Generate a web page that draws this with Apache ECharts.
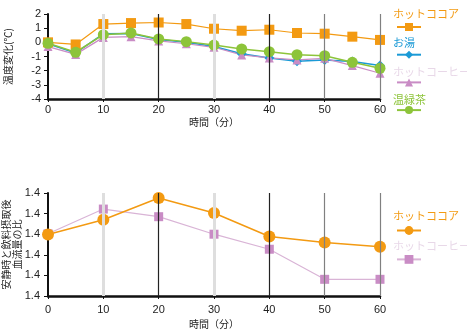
<!DOCTYPE html>
<html><head><meta charset="utf-8">
<script src="https://cdn.jsdelivr.net/npm/echarts@6/dist/echarts.min.js"></script>
<style>html,body{margin:0;padding:0;background:#fff}#c{width:467px;height:330px}</style>
</head><body><div id="c"></div>
<script>
// ---- data ----
const times = [0,5,10,15,20,25,30,35,40,45,50,55,60];
const cocoa = [0.0,-0.15,1.29,1.36,1.40,1.29,0.96,0.82,0.89,0.66,0.61,0.40,0.17];
const hotWater = [-0.1,-0.75,0.6,0.62,0.2,0.0,-0.3,-0.8,-1.1,-1.34,-1.24,-1.36,-1.64];
const coffee = [-0.3,-0.85,0.35,0.4,0.1,-0.1,-0.35,-0.89,-1.1,-1.24,-1.13,-1.64,-2.18];
const greenTea = [-0.07,-0.7,0.54,0.66,0.24,0.05,-0.19,-0.47,-0.66,-0.87,-0.94,-1.41,-1.83];

const times2 = [0,10,20,30,40,50,60];
const cocoa2 = [1.4299,1.4370,1.4476,1.4403,1.4289,1.4260,1.4239];
const coffee2 = [1.4302,1.4422,1.4385,1.4300,1.4227,1.4081,1.4081];

const names = ['ホットココア','お湯','ホットコーヒー','温緑茶'];
const xTitle = '時間（分）';
const yTitle1 = '温度変化(℃)';
const yTitle2 = '安静時と飲料摂取後\n血流量の比';
const vlineX = [10,20,30,40,50,60];

// ---- styles ----
const C = {cocoa:'#F39A12', water:'#1B9AD6', coffee:'#C98CC5', coffeeLine:'#D9B4D6', coffeeText:'#E8D8E8', tea:'#8DC43A'};
const FJ = '"Noto Sans CJK JP", sans-serif';
const FN = '"Liberation Sans", Arial, sans-serif';
const vStyles = [
  {color:'#dedede', width:3},{color:'#222', width:1.2},{color:'#dedede', width:3},
  {color:'#222', width:1.2},{color:'#808080', width:1.2},{color:'#808080', width:1.2}
];
const pairs = (xs, ys) => xs.map((x,i)=>[x, ys[i]]);

function xAxisCfg(gi, nameGap, margin){
  return {type:'value', gridIndex:gi, min:0, max:60, interval:10,
    name:xTitle, nameLocation:'middle', nameGap:nameGap, nameMoveOverlap:false,
    nameTextStyle:{fontFamily:FJ, fontSize:10, color:'#222'},
    axisLine:{onZero:false, lineStyle:{color:'#111', width:2.5}},
    axisTick:{show:true, length:3, lineStyle:{color:'#111'}},
    axisLabel:{fontFamily:FN, fontSize:11, color:'#222', margin:margin},
    splitLine:{show:false}};
}
function vlines(gi){
  return {type:'line', xAxisIndex:gi, yAxisIndex:gi, data:[], z:1, silent:true,
    markLine:{silent:true, symbol:'none', label:{show:false},
      data: vlineX.map((x,i)=>({xAxis:x, lineStyle:Object.assign({type:'solid'}, vStyles[i])}))}};
}
const nameLegendText = {fontFamily:FJ, fontSize:11, lineHeight:14, padding:[0,0,0,-4], overflow:'none', width:120};

const option = {
  animation:false,
  grid:[{left:48, right:87, top:14, height:85, containLabel:false, outerBoundsMode:'none'},
        {left:48, right:87, top:193, height:103, containLabel:false, outerBoundsMode:'none'}],
  xAxis:[xAxisCfg(0,18,5), xAxisCfg(1,23,8)],
  yAxis:[
    {type:'value', gridIndex:0, min:-4, max:2, interval:1,
     name:yTitle1, nameLocation:'middle', nameGap:35, nameMoveOverlap:false,
     nameTextStyle:{fontFamily:FJ, fontSize:10, color:'#222'},
     axisLine:{show:true, lineStyle:{color:'#111', width:2}},
     axisTick:{show:true, length:4, lineStyle:{color:'#111'}},
     axisLabel:{fontFamily:FN, fontSize:11, color:'#222', margin:7},
     splitLine:{show:false}},
    {type:'value', gridIndex:1, min:1.40, max:1.45, interval:0.01,
     name:yTitle2, nameLocation:'middle', nameGap:25, nameMoveOverlap:false,
     nameTextStyle:{fontFamily:FJ, fontSize:10, color:'#222', lineHeight:11},
     axisLine:{show:true, lineStyle:{color:'#111', width:2}},
     axisTick:{show:true, length:4, lineStyle:{color:'#111'}},
     axisLabel:{fontFamily:FN, fontSize:11, color:'#222', margin:8,
       formatter:v=>(Math.floor(v*10+1e-9)/10).toFixed(1)},
     splitLine:{show:false}}
  ],
  legend:[
    {left:387, top:2, width:120, orient:'vertical', itemWidth:0, itemHeight:14, itemGap:14.7,
     icon:'rect', selectedMode:false, textStyle:nameLegendText,
     data:[
       {name:names[0], itemStyle:{opacity:0}, lineStyle:{opacity:0}, textStyle:{color:C.cocoa}},
       {name:names[1], itemStyle:{opacity:0}, lineStyle:{opacity:0}, textStyle:{color:C.water}},
       {name:names[2], itemStyle:{opacity:0}, lineStyle:{opacity:0}, textStyle:{color:C.coffeeText}},
       {name:names[3], itemStyle:{opacity:0}, lineStyle:{opacity:0}, textStyle:{color:C.tea}}
     ]},
    {left:391, top:17, orient:'vertical', itemWidth:24, itemHeight:10, itemGap:18.7,
     selectedMode:false, formatter:()=>'', data:names},
    {left:387, top:204, width:120, orient:'vertical', itemWidth:0, itemHeight:14, itemGap:16,
     icon:'rect', selectedMode:false, textStyle:nameLegendText,
     data:[
       {name:'ホットココア ', itemStyle:{opacity:0}, lineStyle:{opacity:0}, textStyle:{color:C.cocoa}},
       {name:'ホットコーヒー ', itemStyle:{opacity:0}, lineStyle:{opacity:0}, textStyle:{color:C.coffeeText}}
     ]},
    {left:391, top:220, orient:'vertical', itemWidth:24, itemHeight:11, itemGap:19,
     selectedMode:false, formatter:()=>'', data:['ホットココア ','ホットコーヒー ']}
  ],
  series:[
    vlines(0), vlines(1),
    {name:names[0], type:'line', xAxisIndex:0, yAxisIndex:0, data:pairs(times,cocoa), z:3,
     symbol:'rect', symbolSize:10, color:C.cocoa, lineStyle:{color:C.cocoa, width:1.2}, itemStyle:{color:C.cocoa}},
    {name:names[1], type:'line', xAxisIndex:0, yAxisIndex:0, data:pairs(times,hotWater), z:3,
     symbol:'diamond', symbolSize:10, color:C.water, lineStyle:{color:C.water, width:1.5}, itemStyle:{color:C.water}},
    {name:names[2], type:'line', xAxisIndex:0, yAxisIndex:0, data:pairs(times,coffee), z:3,
     symbol:'triangle', symbolSize:9, color:C.coffee, lineStyle:{color:C.coffee, width:1.2}, itemStyle:{color:C.coffee}},
    {name:names[3], type:'line', xAxisIndex:0, yAxisIndex:0, data:pairs(times,greenTea), z:3,
     symbol:'circle', symbolSize:11, color:C.tea, lineStyle:{color:C.tea, width:1.5}, itemStyle:{color:C.tea}},
    {name:'ホットココア ', type:'line', xAxisIndex:1, yAxisIndex:1, data:pairs(times2,cocoa2), z:4,
     symbol:'circle', symbolSize:12, color:C.cocoa, lineStyle:{color:C.cocoa, width:1.5}, itemStyle:{color:C.cocoa}},
    {name:'ホットコーヒー ', type:'line', xAxisIndex:1, yAxisIndex:1, data:pairs(times2,coffee2), z:3,
     symbol:'rect', symbolSize:9, color:C.coffee, lineStyle:{color:C.coffeeLine, width:1.2}, itemStyle:{color:C.coffee}}
  ]
};
const chart = echarts.init(document.getElementById('c'), null, {renderer:'canvas'});
chart.setOption(option);
</script></body></html>
